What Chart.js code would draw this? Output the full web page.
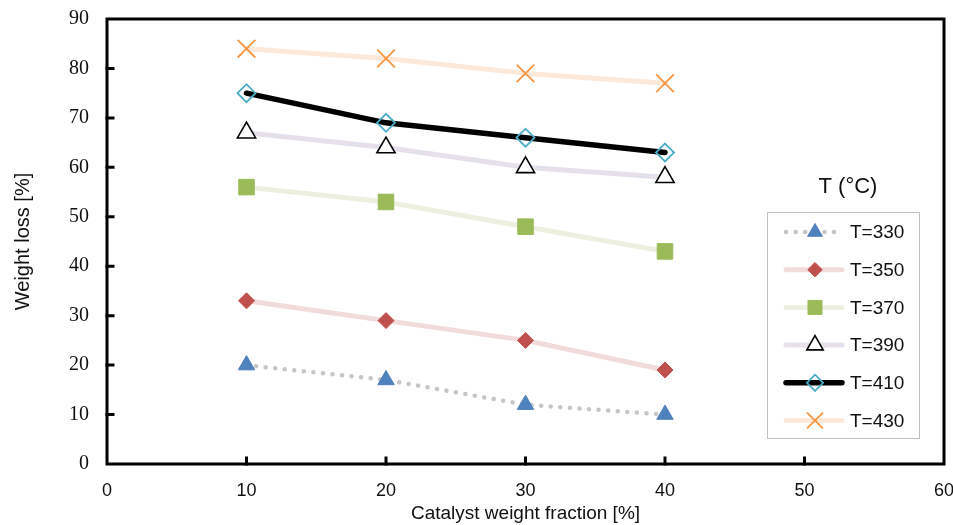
<!DOCTYPE html>
<html>
<head>
<meta charset="utf-8">
<title>Weight loss vs catalyst weight fraction</title>
<script src="https://cdn.jsdelivr.net/npm/chart.js@4/dist/chart.umd.min.js"></script>
<style>
  html, body { margin: 0; padding: 0; background: #fff; }
  #chart { display: block; }
</style>
</head>
<body>
<canvas id="chart" width="953" height="525"></canvas>
<script>
  // catalyst weight fraction [%]
  const fractions = [10, 20, 30, 40];

  // weight loss [%] per temperature (°C)
  const t330 = [20, 17, 12, 10];
  const t350 = [33, 29, 25, 19];
  const t370 = [56, 53, 48, 43];
  const t390 = [67, 64, 60, 58];
  const t410 = [75, 69, 66, 63];
  const t430 = [84, 82, 79, 77];

  const xTicks = [0, 10, 20, 30, 40, 50, 60];
  const yTicks = [0, 10, 20, 30, 40, 50, 60, 70, 80, 90];

  const SANS = "'Liberation Sans', Arial, sans-serif";
  const SERIF = "'Liberation Serif', 'Times New Roman', serif";

  function pts(vals){
    return vals.map((v, i) => ({ x: fractions[i], y: v }));
  }

  function series(label, vals, style){
    return Object.assign({
      label,
      data: pts(vals),
      tension: 0,
      fill: false,
      borderCapStyle: 'round',
      borderJoinStyle: 'round',
      pointBorderWidth: 1,
      pointHoverRadius: 0
    }, style);
  }

  const datasets = [
    series('T=330', t330, {
      borderColor: '#c6c6c6', borderWidth: 4.5, borderDash: [0.1, 9.5],
      pointStyle: 'triangle', pointRadius: 9.5,
      pointBackgroundColor: '#4f81bd', pointBorderColor: '#4f81bd'
    }),
    series('T=350', t350, {
      borderColor: '#f2dcdb', borderWidth: 5,
      pointStyle: 'rectRot', pointRadius: 8,
      pointBackgroundColor: '#c0504d', pointBorderColor: '#c0504d'
    }),
    series('T=370', t370, {
      borderColor: '#ebf1de', borderWidth: 5,
      pointStyle: 'rect', pointRadius: 11,
      pointBackgroundColor: '#9bbb59', pointBorderColor: '#9bbb59'
    }),
    series('T=390', t390, {
      borderColor: '#e6e0ec', borderWidth: 5,
      pointStyle: 'triangle', pointRadius: 10.5, pointBorderWidth: 1.6,
      pointBackgroundColor: '#ffffff', pointBorderColor: '#000000'
    }),
    series('T=410', t410, {
      borderColor: '#000000', borderWidth: 5.5,
      pointStyle: 'rectRot', pointRadius: 9, pointBorderWidth: 1.8,
      pointBackgroundColor: 'rgba(0,0,0,0)', pointBorderColor: '#4bacc6'
    }),
    series('T=430', t430, {
      borderColor: '#fde9d9', borderWidth: 5,
      pointStyle: 'crossRot', pointRadius: 12.5, pointBorderWidth: 1.8,
      pointBackgroundColor: '#f79646', pointBorderColor: '#f79646'
    })
  ];

  // frame round the plot area, with short ticks pointing inwards
  const framePlugin = {
    id: 'framePlugin',
    afterDatasetsDraw(chart){
      const { ctx, chartArea: a, scales } = chart;
      ctx.save();
      ctx.strokeStyle = '#000';
      ctx.lineWidth = 3;
      ctx.lineCap = 'square';
      ctx.beginPath();
      xTicks.slice(1, -1).forEach(v => {
        const x = scales.x.getPixelForValue(v);
        ctx.moveTo(x, a.bottom);
        ctx.lineTo(x, a.bottom - 6);
      });
      yTicks.slice(1, -1).forEach(v => {
        const y = scales.y.getPixelForValue(v);
        ctx.moveTo(a.left, y);
        ctx.lineTo(a.left + 6, y);
      });
      ctx.stroke();
      ctx.lineCap = 'butt';
      ctx.strokeRect(a.left, a.top, a.right - a.left, a.bottom - a.top);
      ctx.restore();
    }
  };

  // boxed legend with a title above it
  const legendBoxPlugin = {
    id: 'legendBoxPlugin',
    afterDraw(chart){
      const { ctx } = chart;
      const box = { x: 767, y: 212, w: 152, h: 226 };
      const row0 = 232, rowGap = 37.7;
      ctx.save();
      ctx.fillStyle = '#fff';
      ctx.fillRect(box.x, box.y, box.w, box.h);
      ctx.strokeStyle = '#bfbfbf';
      ctx.lineWidth = 1;
      ctx.strokeRect(box.x + 0.5, box.y + 0.5, box.w, box.h);

      ctx.fillStyle = '#111';
      ctx.font = '22px ' + SANS;
      ctx.textAlign = 'center';
      ctx.textBaseline = 'middle';
      ctx.fillText('T (°C)', 848, 187);

      chart.data.datasets.forEach((ds, i) => {
        const y = row0 + i * rowGap;
        ctx.save();
        ctx.strokeStyle = ds.borderColor;
        ctx.lineWidth = ds.borderWidth;
        ctx.lineCap = 'round';
        ctx.setLineDash(ds.borderDash || []);
        ctx.beginPath();
        ctx.moveTo(786, y);
        ctx.lineTo(842, y);
        ctx.stroke();
        ctx.restore();

        ctx.save();
        ctx.fillStyle = ds.pointBackgroundColor;
        ctx.strokeStyle = ds.pointBorderColor;
        ctx.lineWidth = ds.pointBorderWidth;
        Chart.helpers.drawPoint(ctx, {
          pointStyle: ds.pointStyle,
          radius: ds.pointRadius * 0.9,
          rotation: 0,
          borderWidth: ds.pointBorderWidth
        }, 815, y);
        ctx.restore();

        ctx.fillStyle = '#111';
        ctx.font = '19px ' + SANS;
        ctx.textAlign = 'left';
        ctx.textBaseline = 'middle';
        ctx.fillText(ds.label, 850, y + 1);
      });
      ctx.restore();
    }
  };

  new Chart(document.getElementById('chart'), {
    type: 'line',
    data: { datasets },
    options: {
      responsive: false,
      animation: false,
      events: [],
      layout: { autoPadding: false, padding: { top: 19, right: 9, left: 0, bottom: 0 } },
      plugins: {
        legend: { display: false },
        tooltip: { enabled: false }
      },
      scales: {
        x: {
          type: 'linear',
          min: 0, max: 60,
          afterBuildTicks: s => { s.ticks = xTicks.map(v => ({ value: v })); },
          afterFit: s => { s.height = 61; s.paddingLeft = 0; s.paddingRight = 0; },
          grid: { display: false, drawTicks: false },
          border: { display: false },
          ticks: { color: '#111', padding: 16, maxRotation: 0, font: { family: SANS, size: 18 } },
          title: {
            display: true, text: 'Catalyst weight fraction [%]', color: '#111',
            padding: { top: 0, bottom: 0 }, font: { family: SANS, size: 19 }
          }
        },
        y: {
          type: 'linear',
          min: 0, max: 90,
          afterBuildTicks: s => { s.ticks = yTicks.map(v => ({ value: v })); },
          afterFit: s => { s.width = 107; s.paddingTop = 0; s.paddingBottom = 0; },
          grid: { display: false, drawTicks: false },
          border: { display: false },
          ticks: { color: '#111', padding: 18, font: { family: SERIF, size: 20 } },
          title: {
            display: true, text: 'Weight loss [%]', color: '#111',
            padding: { top: 11, bottom: 0 }, font: { family: SANS, size: 20 }
          }
        }
      }
    },
    plugins: [framePlugin, legendBoxPlugin]
  });
</script>
</body>
</html>
